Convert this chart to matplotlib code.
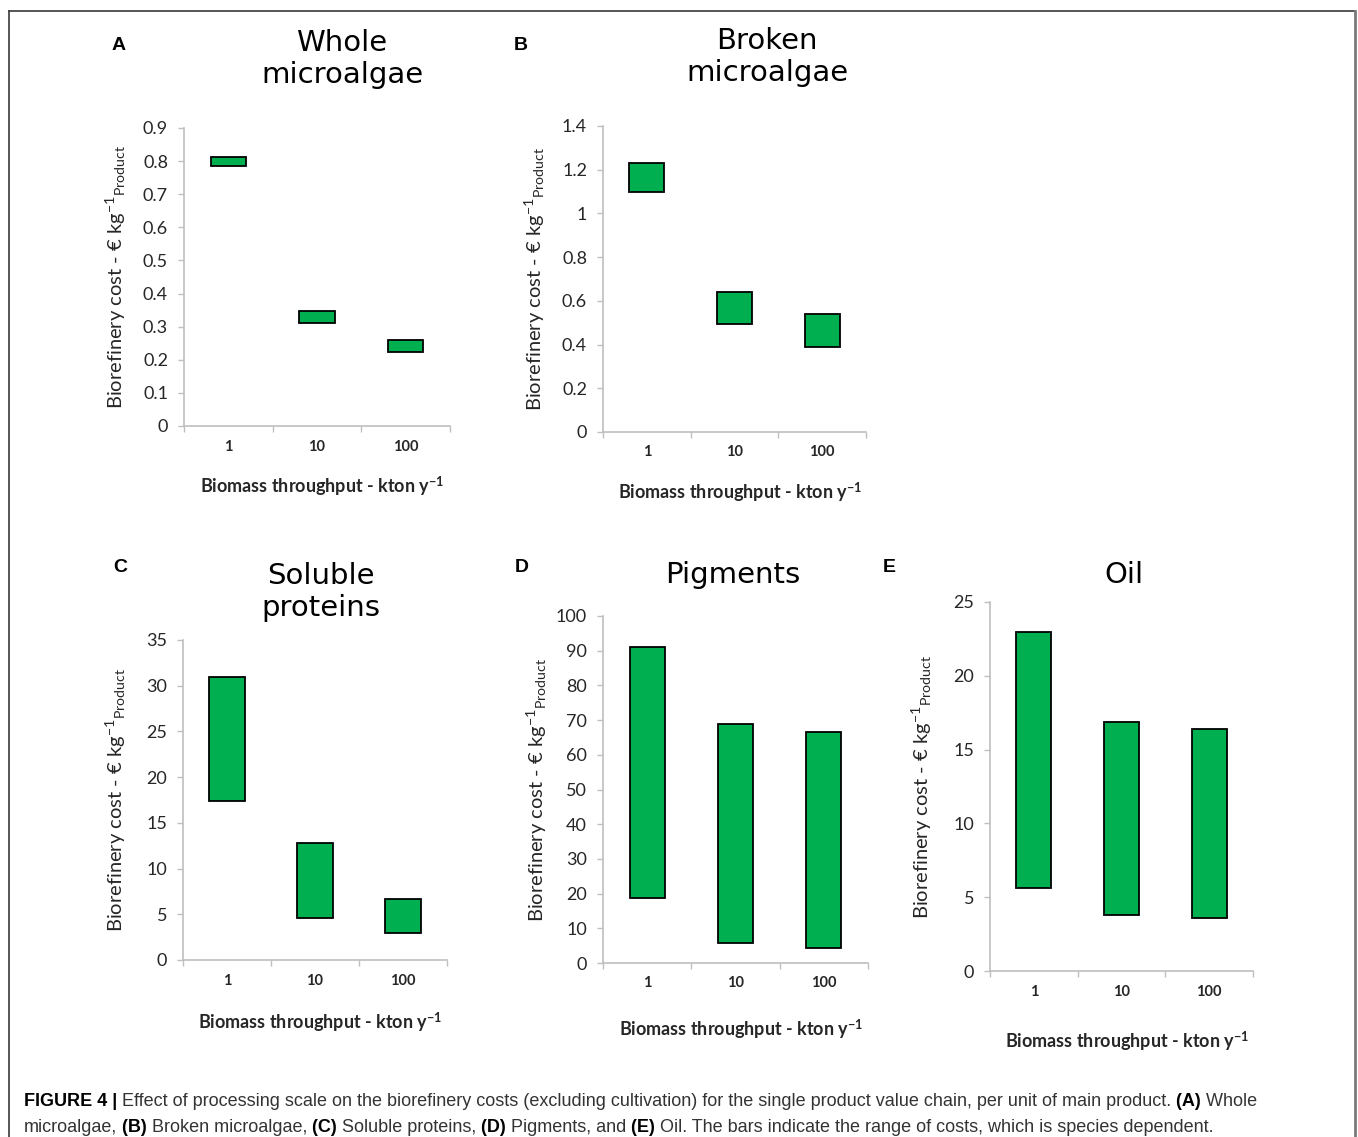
import matplotlib
matplotlib.use("Agg")
import matplotlib.pyplot as plt
from matplotlib.lines import Line2D
from matplotlib.ticker import FixedLocator, NullFormatter, FuncFormatter

plt.rcParams["mathtext.fontset"] = "custom"
plt.rcParams["mathtext.rm"] = "Lato"
plt.rcParams["mathtext.it"] = "Lato:italic"
plt.rcParams["mathtext.bf"] = "Lato:bold"

W, H = 1358, 1137
DPI = 100

# ---- data: cost ranges (EUR per kg product) per biomass throughput ----
throughput = ["1", "10", "100"]

whole_low = [0.786, 0.312, 0.224]
whole_high = [0.811, 0.348, 0.260]

broken_low = [1.097, 0.493, 0.387]
broken_high = [1.230, 0.639, 0.538]

protein_low = [17.4, 4.6, 2.9]
protein_high = [30.9, 12.8, 6.65]

pigment_low = [18.7, 5.9, 4.3]
pigment_high = [91.0, 68.8, 66.6]

oil_low = [5.6, 3.8, 3.6]
oil_high = [23.0, 16.9, 16.4]

titles = ["Whole\nmicroalgae", "Broken\nmicroalgae", "Soluble\nproteins", "Pigments", "Oil"]
letters = ["A", "B", "C", "D", "E"]
y_max = [0.9, 1.4, 35, 100, 25]
y_step = [0.1, 0.2, 5, 10, 5]

GREEN = "#00b050"
AXIS_GRAY = "#bfbfbf"
TEXT = "#262626"

fig = plt.figure(figsize=(W / DPI, H / DPI), dpi=DPI)


def fx(x):
    return x / W


def fy(y):
    return 1 - y / H


# pixel layout of each panel: axes box, title, letter, label positions
panels = [
    dict(box=(184, 450, 128, 426), title=(342, 59), letter=(119, 45), ylab_x=116, xlab_y=486, xtick_y=447),
    dict(box=(603, 866, 126, 432), title=(767, 57), letter=(521, 45), ylab_x=535, xlab_y=492, xtick_y=452),
    dict(box=(183, 447, 640, 960), title=(321, 592), letter=(120, 568), ylab_x=116, xlab_y=1022, xtick_y=981),
    dict(box=(603, 868, 616, 963), title=(733, 575), letter=(522, 568), ylab_x=537, xlab_y=1029, xtick_y=983),
    dict(box=(990, 1253, 602, 971), title=(1124, 575), letter=(889, 568), ylab_x=922, xlab_y=1041, xtick_y=992),
]

lows = [whole_low, broken_low, protein_low, pigment_low, oil_low]
highs = [whole_high, broken_high, protein_high, pigment_high, oil_high]


def fmt(v, pos):
    return "{:g}".format(round(v, 6))


for i, p in enumerate(panels):
    l, r, t, b = p["box"]
    ax = fig.add_axes([fx(l), fy(b), (r - l) / W, (b - t) / H])
    xs = list(range(len(throughput)))
    heights = [hi - lo for lo, hi in zip(lows[i], highs[i])]
    ax.bar(xs, heights, bottom=lows[i], width=0.4, color=GREEN,
           edgecolor="black", linewidth=1.3, zorder=3)

    ax.set_xlim(-0.5, len(throughput) - 0.5)
    ax.set_ylim(0, y_max[i])
    n = int(round(y_max[i] / y_step[i]))
    ax.yaxis.set_major_locator(FixedLocator([k * y_step[i] for k in range(n + 1)]))
    ax.yaxis.set_major_formatter(FuncFormatter(fmt))

    # category boundaries carry the tick marks, names sit between them
    ax.xaxis.set_major_locator(FixedLocator([k - 0.5 for k in range(len(throughput) + 1)]))
    ax.xaxis.set_major_formatter(NullFormatter())
    ax.set_xticks(xs, minor=True)
    ax.set_xticklabels(throughput, minor=True)

    for s in ("top", "right"):
        ax.spines[s].set_visible(False)
    for s in ("left", "bottom"):
        ax.spines[s].set_color(AXIS_GRAY)
        ax.spines[s].set_linewidth(1.2)

    ax.tick_params(axis="y", which="major", direction="out", length=4.5, width=1.0,
                   color=AXIS_GRAY, labelsize=13, labelcolor=TEXT, pad=7)
    for lab in ax.get_yticklabels():
        lab.set_fontfamily("Lato")
    ax.tick_params(axis="x", which="major", direction="out", length=4.5, width=1.0,
                   color=AXIS_GRAY)
    pad_px = p["xtick_y"] - b - 7
    ax.tick_params(axis="x", which="minor", length=0, labelsize=10.5, labelcolor=TEXT,
                   pad=pad_px * 72 / DPI)
    for lab in ax.get_xticklabels(minor=True):
        lab.set_fontfamily("Lato")
        lab.set_fontweight("bold")

    ax.set_ylabel(r"Biorefinery cost - € kg$^{-1}$$_{\mathrm{Product}}$",
                  fontfamily="Lato", fontsize=14.5, color=TEXT)
    ax.yaxis.label.set_va("center")
    ax.yaxis.set_label_coords((p["ylab_x"] - l) / (r - l), 0.5)
    ax.set_xlabel(r"Biomass throughput - kton y$^{\mathbf{-1}}$",
                  fontfamily="Lato", fontweight="bold", fontsize=13, color=TEXT)
    ax.xaxis.set_label_coords(0.52, (b - p["xlab_y"]) / (b - t))
    ax.xaxis.label.set_va("center")

    tx, ty = p["title"]
    fig.text(fx(tx), fy(ty), titles[i], ha="center", va="center",
             fontfamily="DejaVu Sans", fontsize=21, color="black", linespacing=1.15)
    lx, ly = p["letter"]
    fig.text(fx(lx), fy(ly), letters[i], ha="center", va="center",
             fontfamily="Liberation Sans", fontweight="bold", fontsize=14, color="black")

# frame around the figure
fig.add_artist(Line2D([fx(8.5), fx(8.5)], [fy(11), 0], color="#3a3a3a", lw=1.2))
fig.add_artist(Line2D([fx(8.5), fx(1355)], [fy(11), fy(11)], color="#3a3a3a", lw=1.2))
fig.add_artist(Line2D([fx(1355), fx(1355)], [fy(11), 0], color="#7a7a7a", lw=2.0))

# caption with mixed bold/regular runs
caption_lines = [
    [("FIGURE 4 |", "bold"),
     (" Effect of processing scale on the biorefinery costs (excluding cultivation) for the single product value chain, per unit of main product.", "normal"),
     (" (A)", "bold"), (" Whole", "normal")],
    [("microalgae,", "normal"), (" (B)", "bold"), (" Broken microalgae,", "normal"),
     (" (C)", "bold"), (" Soluble proteins,", "normal"), (" (D)", "bold"),
     (" Pigments, and", "normal"), (" (E)", "bold"),
     (" Oil. The bars indicate the range of costs, which is species dependent.", "normal")],
]
caption_base = [1106, 1132]
for line, yb in zip(caption_lines, caption_base):
    x_next = 24.0
    for txt, wt in line:
        col = "black" if wt == "bold" else "#333333"
        run = fig.text(fx(x_next), fy(yb), txt, ha="left", va="baseline",
                       fontfamily="Liberation Sans", fontweight=wt,
                       fontsize=13, color=col)
        fig.canvas.draw()
        x_next = run.get_window_extent().x1

fig.savefig("out.png", dpi=DPI)
